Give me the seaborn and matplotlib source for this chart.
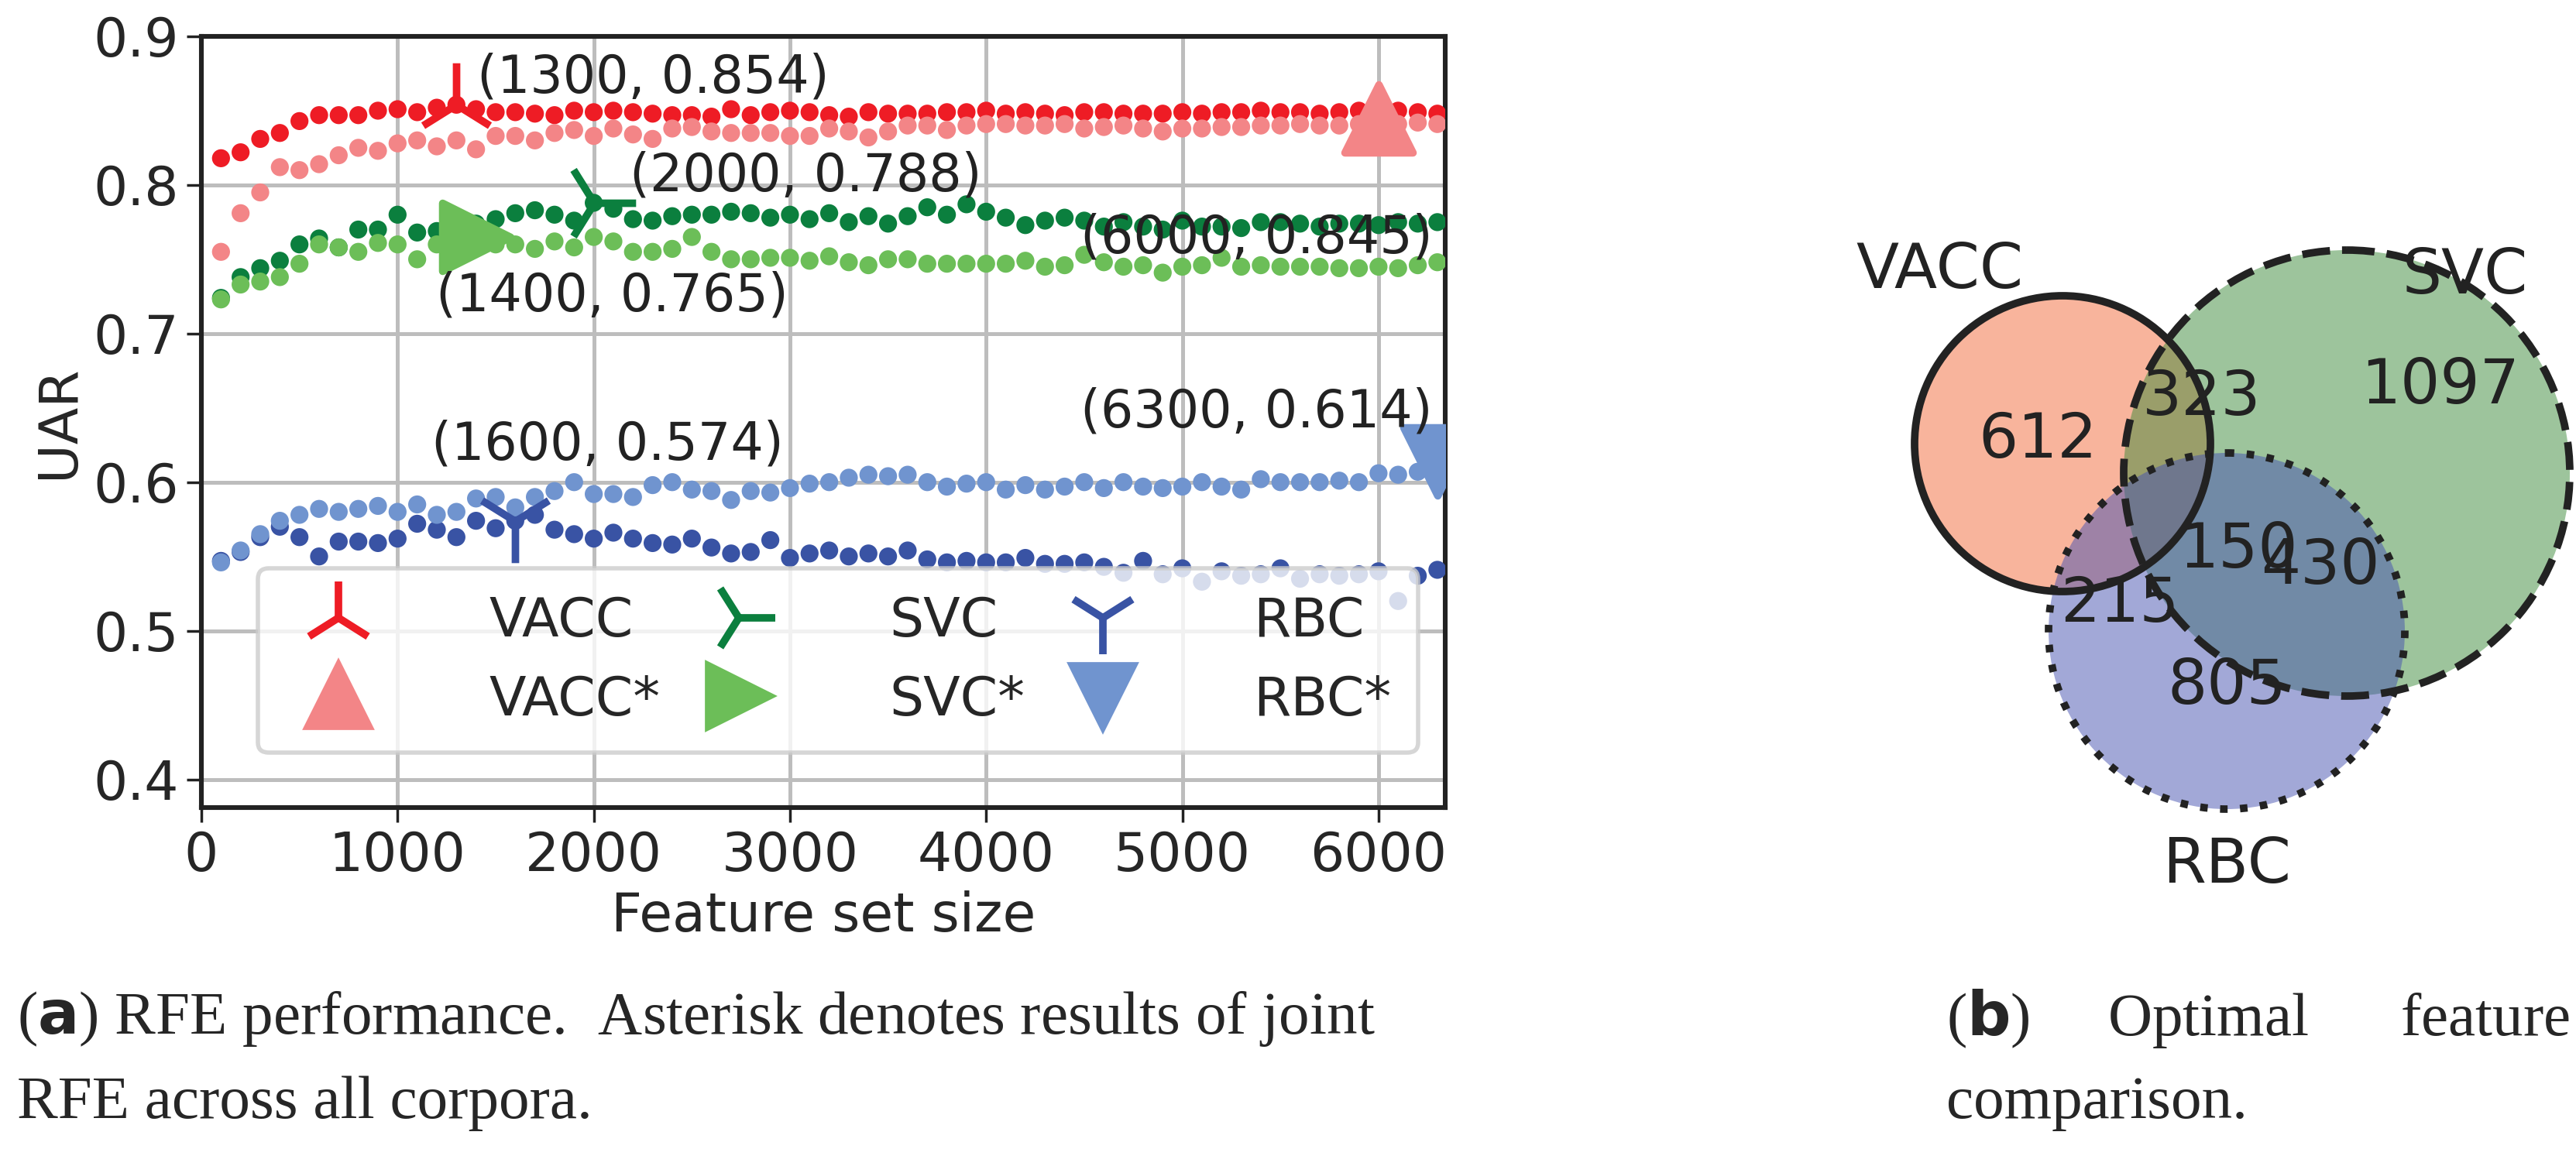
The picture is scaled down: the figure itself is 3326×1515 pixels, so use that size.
import numpy as np
import pandas as pd
import seaborn as sns
import matplotlib
matplotlib.use("Agg")
import matplotlib.pyplot as plt
from matplotlib.patches import Circle
from matplotlib.lines import Line2D

sizes = list(range(100, 6400, 100))  # 63 points
vacc = [0.818,0.822,0.831,0.835,0.843,0.847,0.847,0.847,0.850,0.851,0.849,0.852,0.854,0.851,0.849,0.849,0.848,0.847,0.850,0.849,0.850,0.849,0.848,0.847,0.847,0.846,0.851,0.847,0.849,0.850,0.849,0.847,0.846,0.849,0.848,0.848,0.848,0.849,0.849,0.850,0.848,0.849,0.848,0.847,0.849,0.849,0.848,0.848,0.848,0.849,0.848,0.849,0.849,0.850,0.849,0.849,0.848,0.849,0.850,0.849,0.850,0.849,0.848]
vacc_s = [0.755,0.781,0.795,0.812,0.810,0.814,0.820,0.825,0.823,0.828,0.830,0.826,0.830,0.824,0.833,0.833,0.830,0.835,0.837,0.833,0.838,0.834,0.831,0.838,0.839,0.836,0.835,0.835,0.835,0.833,0.833,0.838,0.836,0.832,0.836,0.840,0.840,0.837,0.840,0.841,0.841,0.840,0.840,0.841,0.838,0.839,0.840,0.838,0.836,0.838,0.838,0.839,0.839,0.840,0.840,0.841,0.840,0.840,0.841,0.845,0.841,0.842,0.841]
svc = [0.724,0.738,0.744,0.749,0.760,0.764,0.758,0.770,0.770,0.780,0.768,0.769,0.769,0.774,0.777,0.781,0.783,0.780,0.776,0.788,0.784,0.777,0.776,0.779,0.780,0.780,0.782,0.781,0.778,0.780,0.777,0.781,0.775,0.779,0.774,0.779,0.785,0.780,0.787,0.782,0.778,0.773,0.776,0.778,0.776,0.772,0.775,0.772,0.770,0.776,0.772,0.772,0.771,0.775,0.775,0.774,0.772,0.774,0.774,0.773,0.775,0.774,0.775]
svc_s = [0.723,0.733,0.735,0.738,0.747,0.760,0.758,0.755,0.761,0.760,0.750,0.760,0.760,0.765,0.760,0.760,0.757,0.762,0.758,0.765,0.762,0.755,0.755,0.757,0.765,0.755,0.750,0.750,0.751,0.751,0.749,0.752,0.748,0.746,0.750,0.750,0.747,0.747,0.747,0.747,0.747,0.749,0.745,0.746,0.753,0.748,0.745,0.746,0.741,0.745,0.746,0.751,0.745,0.746,0.745,0.745,0.745,0.744,0.744,0.745,0.744,0.746,0.748]
rbc = [0.547,0.553,0.563,0.570,0.563,0.550,0.560,0.560,0.559,0.562,0.572,0.568,0.563,0.574,0.569,0.574,0.578,0.568,0.565,0.562,0.566,0.562,0.559,0.558,0.562,0.556,0.552,0.553,0.561,0.549,0.552,0.554,0.550,0.552,0.550,0.554,0.548,0.546,0.547,0.546,0.546,0.549,0.545,0.545,0.546,0.543,0.539,0.547,0.538,0.542,0.533,0.540,0.537,0.538,0.542,0.535,0.538,0.537,0.538,0.540,0.520,0.537,0.541]
rbc_s = [0.546,0.554,0.565,0.574,0.578,0.582,0.580,0.582,0.584,0.580,0.585,0.578,0.580,0.589,0.590,0.583,0.590,0.594,0.600,0.592,0.592,0.590,0.598,0.600,0.595,0.594,0.588,0.594,0.593,0.596,0.599,0.600,0.603,0.605,0.604,0.605,0.600,0.597,0.599,0.600,0.595,0.598,0.595,0.597,0.600,0.596,0.600,0.597,0.596,0.597,0.600,0.597,0.595,0.602,0.600,0.600,0.600,0.601,0.600,0.606,0.605,0.607,0.614]

best = {"VACC": (1300, 0.854), "VACC*": (6000, 0.845), "SVC": (2000, 0.788),
        "SVC*": (1400, 0.765), "RBC": (1600, 0.574), "RBC*": (6300, 0.614)}
series = {"VACC": vacc, "VACC*": vacc_s, "SVC": svc, "SVC*": svc_s, "RBC": rbc, "RBC*": rbc_s}
colors = {"VACC": "#ee1c25", "VACC*": "#f38587", "SVC": "#0b7f3e", "SVC*": "#6cbe58",
          "RBC": "#3953a4", "RBC*": "#7094cf"}
markers = {"VACC": "2", "VACC*": "^", "SVC": "4", "SVC*": ">", "RBC": "1", "RBC*": "v"}

venn_labels = ["612", "323", "1097", "215", "150", "430", "805"]

sns.set_theme(style="whitegrid")
plt.rcParams['font.family'] = ['DejaVu Sans']

fig = plt.figure(figsize=(16.63, 7.575), dpi=200)
W, H = 3326, 1515
ax = fig.add_axes([260/W, 1 - 1043/H, (1866-260)/W, (1043-47)/H])

df = pd.concat([pd.DataFrame({"size": sizes, "UAR": v, "s": k}) for k, v in series.items()])
sns.scatterplot(data=df, x="size", y="UAR", hue="s", palette=colors, s=70, linewidth=0,
                legend=False, ax=ax, zorder=3)
handles = []
for k, (bx, by) in best.items():
    big = markers[k] in ("^", ">", "v")
    ax.scatter([bx], [by], marker=markers[k], s=1000 if big else 1500, color=colors[k],
               linewidths=3.5, zorder=4)
    handles.append(Line2D([], [], linestyle="none", marker=markers[k], color=colors[k],
                          markersize=28 if big else 34, markeredgewidth=3.5))
ann = {"VACC": (1405, 0.872, "left"), "VACC*": (5378, 0.764, "center"),
       "SVC": (2183, 0.806, "left"), "SVC*": (1196, 0.725, "left"),
       "RBC": (1171, 0.625, "left"), "RBC*": (5378, 0.647, "center")}
for k, (tx, ty, ha) in ann.items():
    bx, by = best[k]
    ax.text(tx, ty, f"({bx}, {by:.3f})", fontsize=24, ha=ha, va="center",
            color="#222222", zorder=5)
ax.set_xlim(0, 6340)
ax.set_ylim(0.381, 0.9)
ax.set_xticks([0, 1000, 2000, 3000, 4000, 5000, 6000])
ax.set_yticks([0.4, 0.5, 0.6, 0.7, 0.8, 0.9])
ax.tick_params(labelsize=25, length=7, color="#222222", left=True, bottom=True)
ax.set_xlabel("Feature set size", fontsize=25)
ax.set_ylabel("UAR", fontsize=25)
ax.grid(color="#bdbdbd", linewidth=1.8)
for sp in ax.spines.values():
    sp.set_color("#222222"); sp.set_linewidth(2.2)
order = ["VACC", "VACC*", "SVC", "SVC*", "RBC", "RBC*"]
leg = ax.legend(handles, order, ncol=3, fontsize=25, loc="lower left",
                bbox_to_anchor=(0.024, 0.036, 0.976, 0.22), mode="expand", frameon=True,
                handletextpad=1.8, borderpad=0.5, labelspacing=0.5)
leg.get_frame().set_edgecolor("#cccccc"); leg.get_frame().set_linewidth(2)

# Venn panel
vx = fig.add_axes([0, 0, 1, 1], facecolor="none")
vx.set_xlim(0, W); vx.set_ylim(H, 0); vx.axis("off")
circ = [((2663, 573), 191, "#f26b3a", "-"), ((3030, 611), 288, "#3d8a3a", "--"),
        ((2875, 815), 230, "#4652b0", ":")]
for (c, r, col, ls) in circ:
    vx.add_patch(Circle(c, r, facecolor=col, alpha=0.5, edgecolor="none"))
for (c, r, col, ls) in circ:
    vx.add_patch(Circle(c, r, facecolor="none", edgecolor="#222222", linewidth=3.5, linestyle=ls))
pos = [(2631, 569), (2843, 514), (3151, 499), (2737, 781), (2890, 711), (2996, 732), (2875, 887)]
for (x, y), t in zip(pos, venn_labels):
    vx.text(x, y, t, fontsize=29, ha="center", va="center", color="#222222")
vx.text(2504, 350, "VACC", fontsize=29, ha="center", va="center", color="#222222")
vx.text(3183, 357, "SVC", fontsize=29, ha="center", va="center", color="#222222")
vx.text(2875, 1118, "RBC", fontsize=29, ha="center", va="center", color="#222222")

serif = ["Liberation Serif", "DejaVu Serif"]
vx.text(22, 1315, r"($\mathbf{a}$) RFE performance.  Asterisk denotes results of joint",
        fontsize=28.5, family=serif, va="center")
vx.text(22, 1425, "RFE across all corpora.", fontsize=28.5, family=serif, va="center")
vx.text(2513, 1315, r"($\mathbf{b}$)     Optimal      feature      set", fontsize=28.5, family=serif, va="center")
vx.text(2513, 1425, "comparison.", fontsize=28.5, family=serif, va="center")

fig.savefig("out.png", dpi=200)
